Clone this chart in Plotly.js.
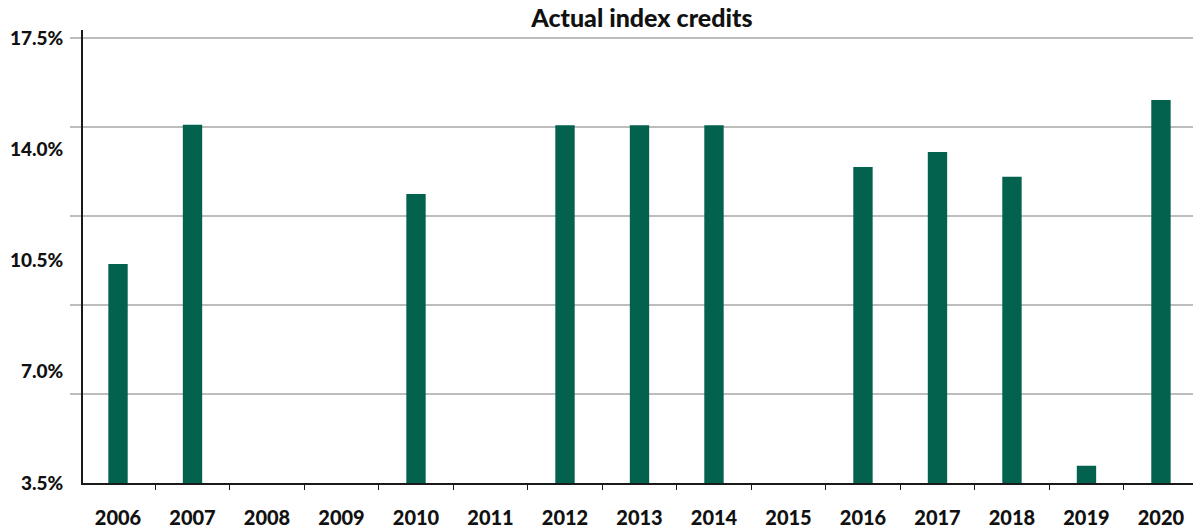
<!DOCTYPE html>
<html>
<head>
<meta charset="utf-8">
<script src="https://cdn.plot.ly/plotly-3.0.1.min.js"></script>
<style>html,body{margin:0;padding:0;background:#fff;}#chart{width:1193px;height:529px;}</style>
</head>
<body>
<div id="chart"></div>
<script>
const years = ['2006','2007','2008','2009','2010','2011','2012','2013','2014','2015','2016','2017','2018','2019','2020'];
const credits = [10.39, 14.77, 0, 0, 12.59, 0, 14.75, 14.75, 14.75, 0, 13.44, 13.91, 13.13, 4.04, 15.55];
const yTickVals = [3.5, 7.0, 10.5, 14.0, 17.5];
const yTickText = ['3.5%', '7.0%', '10.5%', '14.0%', '17.5%'];
const gridVals = [6.3, 9.1, 11.9, 14.7, 17.5];

const font = "Lato, 'Open Sans', sans-serif";

Plotly.newPlot('chart', [{
  type: 'bar',
  x: years,
  y: credits,
  width: 0.26,
  marker: {color: '#02624d'},
  hoverinfo: 'x+y'
}], {
  width: 1193,
  height: 529,
  margin: {l: 83, r: 0, t: 30, b: 46, pad: 0},
  paper_bgcolor: '#fff',
  plot_bgcolor: '#fff',
  showlegend: false,
  title: {
    text: 'Actual index credits',
    font: {family: font, size: 25, color: '#111', weight: 900},
    x: 0.538, xref: 'container', xanchor: 'center',
    y: 0.965, yref: 'container', yanchor: 'middle'
  },
  xaxis: {
    type: 'category',
    range: [-0.47, 14.43],
    showgrid: false,
    showline: true, linecolor: '#1a1a1a', linewidth: 2,
    ticks: 'outside', tickson: 'boundaries', ticklen: 5, tickwidth: 1.2, tickcolor: '#1a1a1a',
    ticklabelstandoff: 16,
    tickfont: {family: font, size: 20, color: '#111', weight: 900},
    zeroline: false
  },
  yaxis: {
    range: [3.5, 17.75],
    tickvals: yTickVals,
    ticktext: yTickText,
    showgrid: false,
    showline: true, linecolor: '#1a1a1a', linewidth: 2,
    ticks: 'outside', ticklen: 11, tickcolor: 'rgba(0,0,0,0)',
    ticklabelstandoff: 3,
    tickfont: {family: font, size: 19, color: '#111', weight: 900},
    zeroline: false,
    minor: {
      tickvals: gridVals,
      showgrid: true, gridcolor: '#bdbdbd', gridwidth: 1.6,
      ticks: 'outside', ticklen: 11, tickcolor: '#bdbdbd', tickwidth: 1.6
    }
  },
  bargap: 0.74
}, {displayModeBar: false, staticPlot: true});
</script>
</body>
</html>
